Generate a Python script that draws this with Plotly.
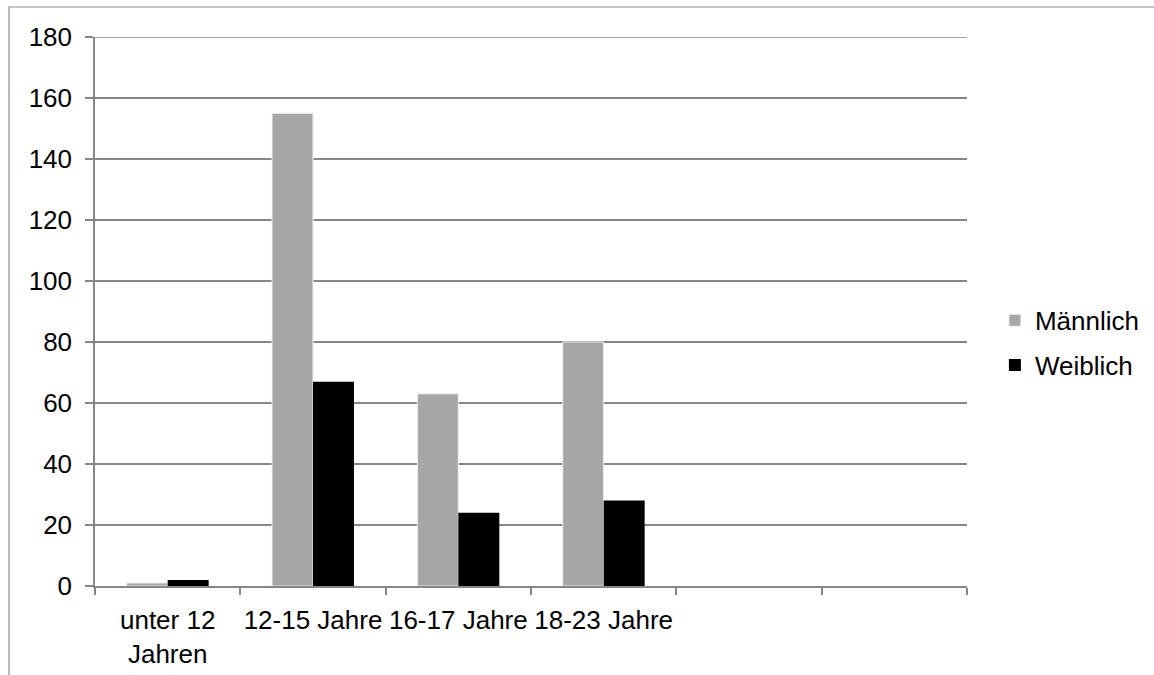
import plotly.graph_objects as go

# Age groups (two trailing empty slots keep the axis at six columns)
categories = ["unter 12<br>Jahren", "12-15 Jahre", "16-17 Jahre", "18-23 Jahre", " ", "  "]
maennlich = [1, 155, 63, 80, None, None]
weiblich = [2, 67, 24, 28, None, None]
y_ticks = [0, 20, 40, 60, 80, 100, 120, 140, 160, 180]

FONT = "Liberation Sans, Arial, sans-serif"
GRID = "#868686"
FS = 26

fig = go.Figure()
fig.add_trace(go.Bar(
    x=categories, y=maennlich, name="Männlich",
    marker=dict(color="#a6a6a6", line=dict(color="#f2f2f2", width=1)),
    legendgroup="m",
))
fig.add_trace(go.Bar(
    x=categories, y=weiblich, name="Weiblich",
    marker=dict(color="#000000", line=dict(width=0)),
    legendgroup="w",
))

fig.update_layout(
    width=1154, height=675,
    margin=dict(l=95, r=187, t=37, b=89, autoexpand=False),
    paper_bgcolor="white", plot_bgcolor="white",
    font=dict(family=FONT, size=FS, color="#000000"),
    barmode="group", bargap=0.436, bargroupgap=0,
    showlegend=True,
    legend=dict(
        x=1.032, y=0.443, xanchor="left", yanchor="middle",
        font=dict(family=FONT, size=FS, color="#000000"),
        tracegroupgap=8, bgcolor="rgba(0,0,0,0)",
    ),
    xaxis=dict(
        type="category", categoryorder="array", categoryarray=categories,
        range=[-0.5, 5.5], automargin=False,
        tickson="boundaries", ticks="outside", ticklen=7, tickwidth=1.5,
        tickcolor=GRID, showline=True, linecolor=GRID, linewidth=1.5,
        showgrid=False, zeroline=False, tickangle=0,
        ticklabelstandoff=10,
        tickfont=dict(family=FONT, size=FS),
    ),
    yaxis=dict(
        range=[0, 180], tickvals=y_ticks, ticktext=[str(v) for v in y_ticks],
        automargin=False,
        ticks="outside", ticklen=8, tickwidth=1.5, tickcolor=GRID,
        showline=True, linecolor=GRID, linewidth=1.5,
        showgrid=True, gridcolor=GRID, gridwidth=1.5, zeroline=False,
        ticklabelstandoff=8,
        tickfont=dict(family=FONT, size=FS),
    ),
)

# Top gridline at the axis maximum
fig.add_shape(
    type="line", xref="paper", yref="y",
    x0=0, x1=1, y0=y_ticks[-1], y1=y_ticks[-1],
    line=dict(color=GRID, width=1.5),
)

# Outer chart frame (extends past the right and bottom edges)
fig.add_shape(
    type="rect", xref="paper", yref="paper",
    x0=(9 - 95) / 872, x1=(1180 - 95) / 872,
    y0=(586 - 700) / 549, y1=(586 - 7) / 549,
    line=dict(color="#8c8c8c", width=1.2), fillcolor="rgba(0,0,0,0)",
    layer="below",
)

fig.write_html("out.html")
